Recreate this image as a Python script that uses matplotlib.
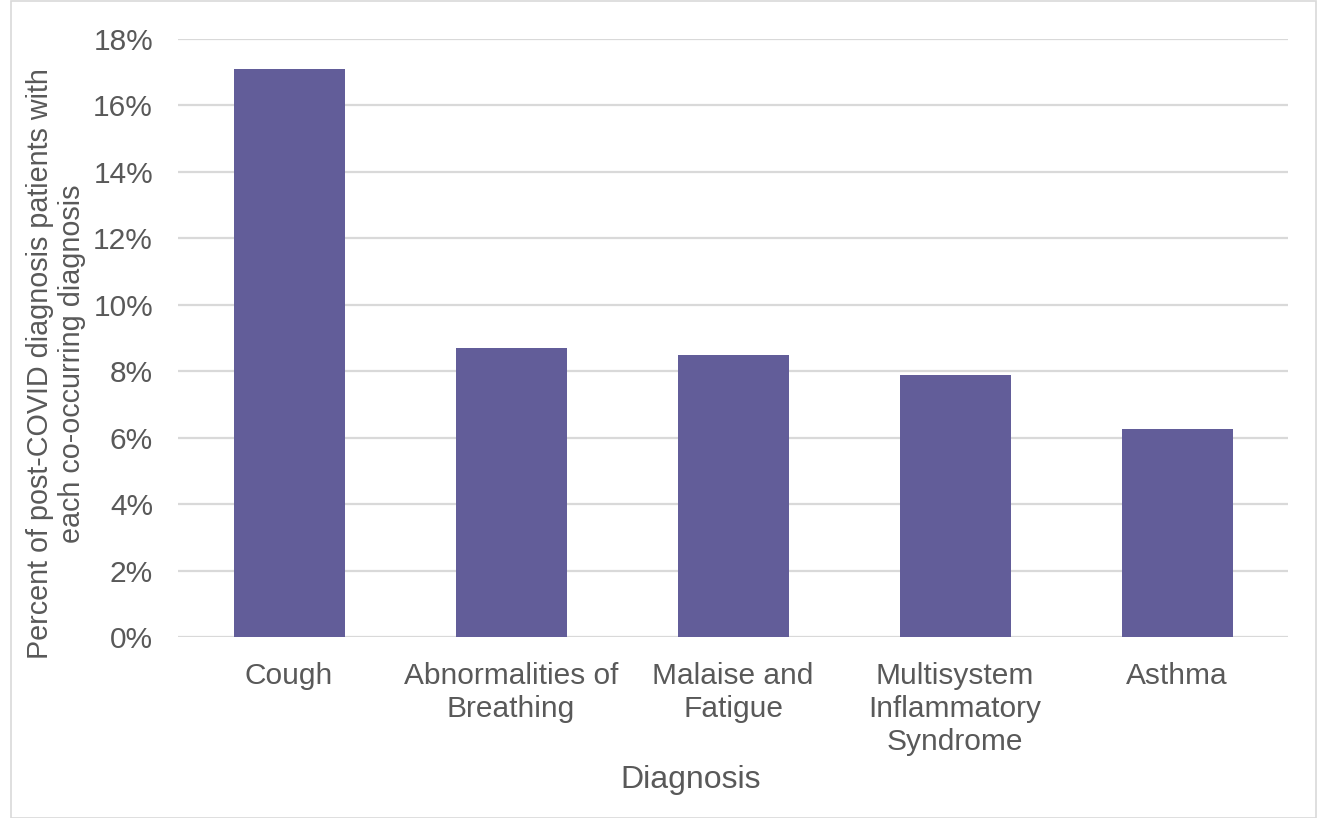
import matplotlib
matplotlib.use("Agg")
import matplotlib.pyplot as plt
from matplotlib.patches import Rectangle
from matplotlib.ticker import FuncFormatter, MultipleLocator

categories = ["Cough", "Abnormalities of\nBreathing", "Malaise and\nFatigue",
              "Multisystem\nInflammatory\nSyndrome", "Asthma"]
values = [17.1, 8.7, 8.5, 7.9, 6.25]

plt.rcParams['font.family'] = ['Liberation Sans', 'DejaVu Sans']
text_color = "#595959"

W, H = 1317, 818
fig = plt.figure(figsize=(W / 100, H / 100), dpi=100)
ax = fig.add_axes([178 / W, 1 - 637 / H, (1288 - 178) / W, (637 - 39) / H])

x = range(len(categories))
ax.bar(x, values, width=0.5, color="#625D99", zorder=3)
ax.set_xlim(-0.5, len(categories) - 0.5)
ax.set_ylim(0, 18)
ax.yaxis.set_major_locator(MultipleLocator(2))
ax.yaxis.set_major_formatter(FuncFormatter(lambda v, p: f"{v:.0f}%"))
ax.grid(axis="y", color="#D9D9D9", lw=1.6, zorder=0)
ax.set_axisbelow(True)
for s in ax.spines.values():
    s.set_visible(False)
ax.tick_params(axis="both", length=0, labelsize=21.5, labelcolor=text_color)
ax.tick_params(axis="y", pad=18)
ax.tick_params(axis="x", pad=18)
ax.set_xticks(list(x))
ax.set_xticklabels(categories, linespacing=1.22)

fig.text(691 / W, 1 - 780 / H, "Diagnosis", fontsize=23, color=text_color,
         ha="center", va="center")
fig.text(56 / W, 1 - 364 / H,
         "Percent of post-COVID diagnosis patients with\neach co-occurring diagnosis",
         fontsize=20.7, color=text_color, linespacing=1.2, rotation=90,
         ha="center", va="center", multialignment="center")

fig.patches.append(Rectangle((11 / W, 0.5 / H), (1316 - 11) / W, (H - 1.5) / H,
                             transform=fig.transFigure, fill=False,
                             edgecolor="#D9D9D9", lw=1.2))

fig.savefig("out.png", dpi=100)
